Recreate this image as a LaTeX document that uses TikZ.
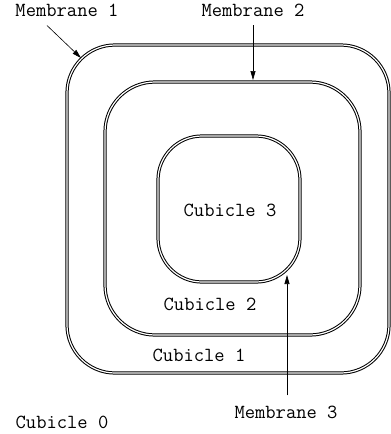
\documentclass[tikz,border=0pt]{standalone}
\usepackage{fontspec}
\usetikzlibrary{arrows.meta,positioning,calc}

\begin{document}
\begin{tikzpicture}[x=1pt,y=-1pt,
  membrane/.style={draw,double,double distance=1.2pt,line width=1pt,rounded corners=#1,inner sep=0pt},
  lbl/.style={font=\ttfamily\fontsize{20}{24}\selectfont,inner sep=2pt},
  pointer/.style={-{Triangle[length=9pt,width=5pt]},line width=0.6pt}]
  \useasboundingbox (0,0) rectangle (391,434);

  % nested membranes, outermost first
  \node[membrane=48pt,minimum width=322pt,minimum height=328pt] (m1) at (228,209) {};
  \node[membrane=50pt,minimum width=255pt,minimum height=253pt] (m2) at (232.5,208.5) {};
  \node[membrane=44pt,minimum width=142pt,minimum height=146pt] (m3) at (229,209) {};

  % cubicles
  \node[lbl] (c3) at (230,210) {Cubicle 3};
  \node[lbl] (c2) at (210,304) {Cubicle 2};
  \node[lbl] (c1) at (199,355) {Cubicle 1};
  \node[lbl] (c0) at (62,422) {Cubicle 0};

  % membrane labels and pointers
  \node[lbl] (lab1) at (67,10) {Membrane 1};
  \node[lbl] (lab2) at (253,10) {Membrane 2};
  \node[lbl] (lab3) at (286,412) {Membrane 3};
  \coordinate (m1tip) at (81,58);
  \coordinate (m3tip) at (287,275);
  \draw[pointer] ($(lab1.south)+(-20,7)$) -- (m1tip);
  \draw[pointer,shorten >=1.5pt] ($(lab2.south)+(0,7)$) -- (lab2.south |- m2.north);
  \draw[pointer] ($(lab3.north -| m3tip)+(0,-8)$) -- (m3tip);
\end{tikzpicture}
\end{document}
